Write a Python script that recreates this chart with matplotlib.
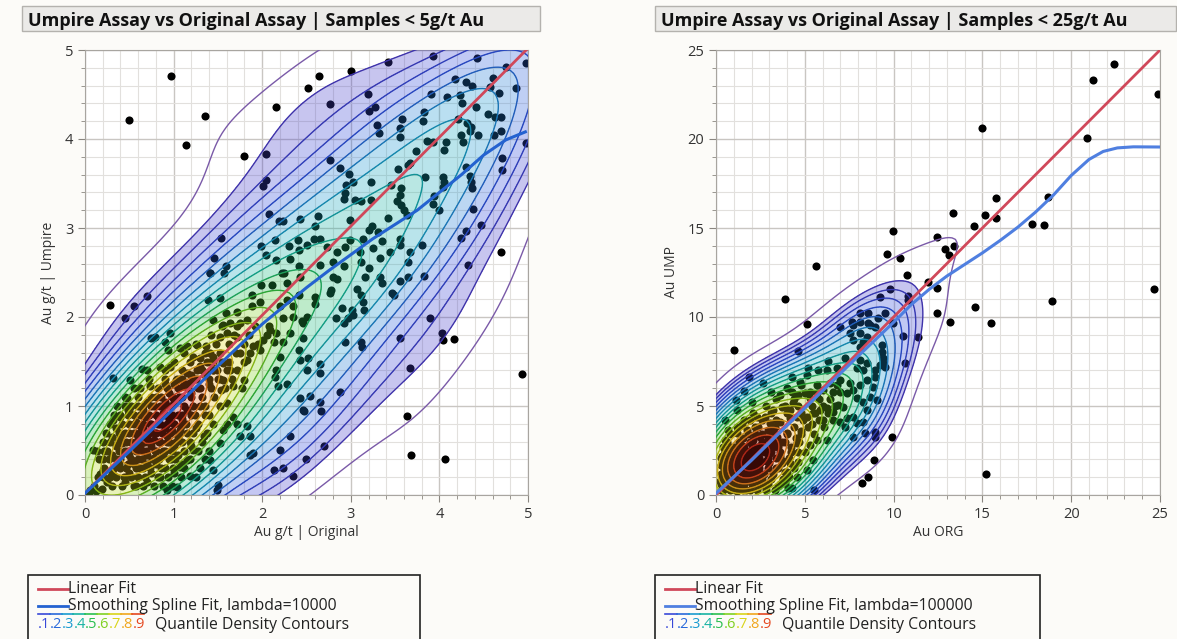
import numpy as np
import matplotlib.pyplot as plt
from matplotlib.patches import Rectangle
from matplotlib.lines import Line2D
from matplotlib.ticker import MultipleLocator
from matplotlib.colors import LinearSegmentedColormap

plt.rcParams['font.family'] = ['Open Sans', 'DejaVu Sans']

# ---- left panel: samples < 5 g/t (Original, Umpire) ----
sparse5 = [
    (0.97, 4.71), (0.50, 4.21), (1.35, 4.26), (1.14, 3.93), (2.16, 4.36), (2.52, 4.57),
    (1.79, 3.81), (2.04, 3.83), (2.04, 3.54), (2.01, 3.47), (2.08, 3.16), (2.19, 3.08),
    (2.24, 3.08), (2.43, 3.10), (1.53, 2.89), (1.46, 2.66), (1.59, 2.57), (1.41, 2.50),
    (1.99, 2.80), (2.14, 2.87), (2.30, 2.80), (2.40, 2.87), (2.41, 2.75), (2.04, 2.70),
    (2.16, 2.64), (2.31, 2.65), (2.41, 2.57), (2.25, 2.50),
    (3.42, 4.86), (3.93, 4.93), (4.43, 4.91), (4.75, 4.81), (4.98, 4.85), (3.00, 4.76),
    (2.64, 4.71), (2.77, 4.39), (3.19, 4.51), (3.27, 4.36), (3.20, 4.32), (4.87, 4.57),
    (4.98, 3.95),
    (4.18, 4.67), (4.30, 4.64), (4.37, 4.60), (4.60, 4.69), (4.67, 4.52), (4.57, 4.58),
    (3.91, 4.51), (4.09, 4.47), (4.23, 4.49), (4.26, 4.40), (4.41, 4.36), (4.55, 4.28),
    (4.63, 4.25), (4.69, 4.25), (4.62, 4.05), (4.70, 4.09), (4.44, 4.05), (4.34, 4.09),
    (4.24, 4.05), (4.27, 3.97), (4.36, 4.14), (4.31, 4.18), (4.21, 4.22), (4.07, 3.97),
    (4.05, 3.88), (3.86, 3.98), (3.93, 3.97), (3.83, 4.30), (3.82, 4.20), (3.58, 4.22),
    (3.55, 4.12), (3.55, 4.02), (3.30, 4.16), (3.32, 4.07), (3.74, 3.86), (3.67, 3.73),
    (3.64, 3.71), (3.53, 3.66), (3.45, 3.48), (3.23, 3.52), (3.84, 3.57), (4.04, 3.57),
    (4.05, 3.52), (4.04, 3.46), (4.30, 3.68), (4.35, 3.58), (4.36, 3.52), (4.37, 3.45),
    (4.71, 3.79), (4.71, 3.65), (3.94, 3.36), (3.93, 3.27), (3.99, 3.20), (4.38, 3.21),
    (4.47, 3.03), (4.30, 2.97), (4.24, 2.89), (4.70, 2.73), (4.32, 2.58), (2.76, 3.76),
    (2.88, 3.67), (2.98, 3.61), (3.03, 3.52), (2.95, 3.48), (2.94, 3.39), (2.92, 3.33),
    (3.12, 3.30), (3.23, 3.31), (3.57, 3.45), (3.56, 3.37), (3.52, 3.30), (3.57, 3.26),
    (3.60, 3.20), (3.63, 3.15), (3.42, 3.11), (3.05, 3.31), (2.63, 3.13), (2.60, 3.02),
    (2.99, 3.09), (3.24, 3.02), (3.31, 2.96), (3.35, 2.85), (3.20, 2.98), (3.14, 2.88),
    (3.25, 2.77), (3.10, 2.73), (3.12, 2.62), (3.20, 2.55), (2.99, 2.87), (2.94, 2.79),
    (2.84, 2.73), (2.73, 2.79), (2.65, 2.88), (2.58, 2.88), (2.50, 2.81), (2.80, 2.62),
    (2.65, 2.58), (2.92, 2.57), (3.33, 2.66), (3.44, 2.73), (3.56, 2.81), (3.67, 2.73),
    (3.80, 2.81), (3.56, 2.88), (3.65, 2.62),
    (3.89, 1.99), (4.03, 1.82), (4.04, 1.74), (4.16, 1.75), (4.93, 1.36), (3.67, 1.43),
    (3.56, 1.76), (3.63, 0.89), (3.68, 0.45), (4.06, 0.41), (2.70, 0.55), (2.49, 0.41),
    (2.88, 1.16), (2.65, 1.05), (2.66, 0.94), (2.47, 0.94), (2.54, 1.11), (2.65, 1.47),
    (2.65, 1.37), (2.50, 1.40), (2.52, 1.54), (2.93, 1.72), (3.11, 1.72), (3.13, 1.66),
    (3.83, 2.46), (3.64, 2.45), (3.56, 2.40), (3.46, 2.27), (3.49, 2.25), (3.14, 2.17),
    (3.15, 2.08), (3.12, 2.25), (3.01, 2.08), (3.03, 2.02), (2.97, 1.99), (2.92, 1.93),
    (2.83, 1.99), (2.90, 2.10), (3.07, 2.32), (3.33, 2.45), (3.35, 2.38), (2.78, 2.30),
    (2.77, 2.27), (2.80, 2.45), (2.84, 2.43), (2.60, 2.23), (2.60, 2.15), (2.50, 2.00),
    (2.46, 1.93), (2.46, 1.76), (3.16, 2.45),
    (0.28, 2.13), (0.55, 2.12), (0.70, 2.24), (0.45, 1.99), (1.41, 2.50), (1.57, 2.50),
    (1.39, 2.19), (1.52, 2.21), (1.59, 2.04), (1.45, 1.97), (1.56, 1.91), (1.64, 1.93),
    (1.75, 1.93), (1.83, 1.97), (1.71, 2.06), (1.88, 2.12), (1.98, 2.17), (1.89, 2.25),
    (1.99, 2.36), (2.11, 2.36), (2.28, 2.38), (2.22, 2.49), (2.43, 2.45), (2.41, 2.25),
    (2.28, 2.19), (2.35, 2.12), (2.20, 2.12), (2.24, 1.99), (2.35, 2.00), (2.45, 1.95),
    (2.09, 1.85), (2.16, 1.82), (2.01, 1.74), (2.13, 1.72), (2.24, 1.72), (2.31, 1.82),
    (2.41, 1.63), (2.43, 1.52), (2.20, 1.55), (2.16, 1.40), (2.28, 1.25), (2.18, 1.22),
    (2.14, 1.33), (1.98, 1.63), (1.90, 1.67), (1.83, 1.52), (1.75, 1.59), (1.71, 1.78),
    (1.60, 1.82), (1.52, 1.78),
    (0.75, 1.76), (0.79, 1.78), (0.90, 1.72), (0.96, 1.82), (0.94, 1.63), (1.07, 1.65),
    (1.15, 1.67), (1.26, 1.69), (1.22, 1.55), (1.30, 1.54), (1.37, 1.67), (1.41, 1.59),
    (1.45, 1.50), (1.26, 1.40), (1.15, 1.37), (1.03, 1.29), (1.11, 1.22), (1.19, 1.26),
    (1.37, 1.37), (1.49, 1.40), (1.56, 1.48), (1.64, 1.40), (1.56, 1.29), (1.67, 1.22),
    (1.77, 1.20), (1.79, 1.29), (1.54, 1.18), (1.60, 1.03), (1.67, 0.88), (1.60, 0.80),
    (1.71, 0.80), (1.83, 0.77), (1.56, 0.73), (1.52, 0.58), (1.75, 0.66), (1.86, 0.66),
    (1.90, 0.47), (1.41, 0.39), (1.45, 0.28), (1.19, 0.21), (1.15, 0.39), (1.22, 0.51),
    (1.07, 0.73), (1.34, 0.66), (1.04, 0.09), (0.92, 0.06), (1.07, 0.32), (1.00, 0.58),
    (1.50, 0.11), (0.32, 1.31), (0.51, 1.29), (0.64, 1.42), (0.47, 1.09), (0.62, 1.20),
    (0.73, 1.22), (0.70, 1.40), (0.85, 1.44), (0.96, 1.44), (0.49, 0.96), (0.40, 0.88),
    (0.32, 0.84), (0.09, 0.51), (0.17, 0.24), (0.06, 0.06), (0.19, 0.07),
    (2.43, 1.09), (2.46, 0.96), (2.31, 0.66), (2.20, 0.51), (1.86, 0.45), (2.13, 0.28),
    (2.24, 0.30), (2.35, 0.21), (1.49, 0.06),
]
core5 = [
    (0.25, 0.15), (0.30, 0.25), (0.35, 0.20), (0.40, 0.30), (0.45, 0.15), (0.50, 0.25),
    (0.55, 0.10), (0.60, 0.20), (0.65, 0.30), (0.70, 0.15), (0.75, 0.25), (0.80, 0.35),
    (0.85, 0.20), (0.90, 0.30), (0.95, 0.40), (1.00, 0.25), (1.05, 0.45), (1.10, 0.35),
    (0.20, 0.40), (0.25, 0.50), (0.30, 0.45), (0.35, 0.55), (0.40, 0.40), (0.45, 0.50),
    (0.50, 0.45), (0.55, 0.55), (0.60, 0.40), (0.65, 0.50), (0.70, 0.45), (0.75, 0.55),
    (0.80, 0.50), (0.85, 0.60), (0.90, 0.50), (0.95, 0.60), (1.00, 0.55), (1.05, 0.65),
    (1.10, 0.60), (1.15, 0.70), (1.20, 0.55), (1.25, 0.75), (0.30, 0.65), (0.35, 0.75),
    (0.40, 0.65), (0.45, 0.70), (0.50, 0.80), (0.55, 0.70), (0.60, 0.65), (0.65, 0.75),
    (0.70, 0.65), (0.75, 0.80), (0.80, 0.70), (0.85, 0.80), (0.90, 0.75), (0.95, 0.85),
    (1.00, 0.80), (1.05, 0.90), (1.10, 0.85), (1.15, 0.95), (1.20, 0.90), (1.30, 1.00),
    (1.35, 0.90), (0.40, 0.90), (0.45, 1.00), (0.50, 0.95), (0.55, 0.90), (0.60, 1.00),
    (0.65, 0.95), (0.70, 1.05), (0.75, 1.00), (0.80, 1.10), (0.85, 1.00), (0.90, 1.05),
    (0.95, 1.15), (1.00, 1.05), (1.05, 1.20), (1.10, 1.10), (1.15, 1.25), (1.20, 1.15),
    (1.25, 1.30), (1.30, 1.20), (1.35, 1.35), (1.40, 1.25), (1.45, 1.40), (1.50, 1.30),
    (0.62, 0.55), (0.68, 0.60), (0.72, 0.70), (0.78, 0.62), (0.82, 0.88), (0.58, 0.82),
    (0.88, 0.92), (0.92, 0.66), (0.52, 0.60), (0.48, 0.35), (0.70, 0.35), (0.78, 0.42),
    (0.88, 0.45), (0.98, 0.72), (1.08, 0.78), (0.68, 0.88), (0.62, 0.78), (0.42, 0.58),
    (0.38, 0.35), (0.55, 0.35), (0.10, 0.10), (0.15, 0.20), (0.20, 0.28), (0.12, 0.05),
    (0.05, 0.02), (1.20, 1.35), (1.30, 1.45), (1.38, 1.50), (1.45, 1.55), (1.55, 1.50),
    (1.10, 1.30), (1.00, 1.25), (0.90, 1.25),
]
# dense blob, read row by row: Umpire value -> Original values
blob5_rows = {
    0.10: [0.30, 0.42, 0.58, 0.66, 0.78, 0.88, 0.98],
    0.20: [0.20, 0.28, 0.44, 0.52, 0.68, 0.82, 0.94, 1.08, 1.25],
    0.30: [0.22, 0.33, 0.46, 0.57, 0.62, 0.73, 0.86, 0.99, 1.12, 1.30],
    0.40: [0.16, 0.27, 0.35, 0.52, 0.64, 0.76, 0.84, 0.97, 1.02, 1.18, 1.35],
    0.50: [0.14, 0.22, 0.38, 0.48, 0.58, 0.69, 0.79, 0.88, 0.98, 1.12, 1.28, 1.40],
    0.60: [0.20, 0.28, 0.37, 0.46, 0.57, 0.66, 0.74, 0.83, 0.93, 1.03, 1.18, 1.32],
    0.70: [0.24, 0.38, 0.50, 0.61, 0.70, 0.78, 0.87, 0.96, 1.06, 1.22, 1.38],
    0.80: [0.28, 0.42, 0.55, 0.66, 0.73, 0.82, 0.92, 1.00, 1.14, 1.28, 1.45],
    0.90: [0.33, 0.48, 0.62, 0.72, 0.80, 0.90, 0.98, 1.10, 1.24, 1.40],
    1.00: [0.36, 0.52, 0.66, 0.78, 0.88, 0.96, 1.12, 1.22, 1.36, 1.52],
    1.10: [0.45, 0.60, 0.74, 0.86, 0.98, 1.06, 1.20, 1.32, 1.46],
    1.20: [0.55, 0.82, 0.92, 1.16, 1.28, 1.42, 1.58],
    1.30: [0.72, 0.90, 1.04, 1.22, 1.40, 1.52, 1.66],
    1.40: [0.90, 1.10, 1.32, 1.45, 1.60, 1.72],
    1.50: [1.00, 1.18, 1.42, 1.62, 1.80],
    1.60: [1.12, 1.35, 1.52, 1.70, 1.86],
    1.70: [1.25, 1.48, 1.62, 1.80, 1.95],
    1.80: [1.42, 1.68, 1.85, 2.05],
    1.90: [1.55, 1.72, 1.92, 2.08],
}
lin5 = (0.02, 1.0)          # intercept, slope
spl5_x = [0.0, 0.5, 1.0, 1.5, 2.0, 2.5, 2.75, 3.0, 3.25, 3.5, 3.75, 4.0, 4.25, 4.5, 4.75, 4.97]
spl5_y = [0.02, 0.49, 0.97, 1.45, 1.92, 2.33, 2.52, 2.70, 2.88, 3.04, 3.20, 3.40, 3.60, 3.82, 3.99, 4.08]

# ---- right panel: samples < 25 g/t (ORG, UMP) ----
sparse25 = [
    (22.41, 24.19), (21.21, 23.30), (24.90, 22.51), (20.87, 20.07), (14.96, 20.60),
    (15.77, 16.70), (18.67, 16.76), (15.15, 15.73), (15.77, 15.54), (14.55, 15.13),
    (17.77, 15.22), (18.49, 15.17), (13.33, 15.82), (12.43, 14.47), (12.89, 13.80),
    (13.42, 13.99), (13.14, 13.48), (9.99, 14.85), (9.65, 13.54), (10.36, 13.30),
    (5.61, 12.88), (14.58, 10.54), (18.90, 10.92), (24.68, 11.55), (13.17, 9.74),
    (15.46, 9.64), (15.20, 1.18), (12.42, 11.61),
    (3.88, 10.99), (1.01, 8.15), (5.14, 9.59), (4.60, 8.09), (10.74, 12.36), (11.96, 11.98),
    (12.42, 10.21), (9.80, 11.57), (9.23, 11.14), (10.83, 11.18), (10.83, 10.95),
    (10.51, 8.95), (11.39, 8.90), (10.64, 7.40), (9.89, 3.28), (8.90, 1.97), (8.58, 1.03),
    (8.20, 0.69), (5.54, 0.28), (1.88, 6.61), (2.63, 6.31), (1.60, 5.86),
    (1.13, 5.34), (0.51, 4.21), (1.16, 4.78), (2.01, 5.24), (3.08, 5.81), (3.60, 5.62),
    (3.98, 5.99), (4.26, 6.61), (4.73, 6.37), (5.11, 6.74), (5.20, 7.12), (5.76, 7.02),
    (6.23, 7.02), (6.33, 7.55), (6.79, 7.12), (6.98, 6.46), (6.42, 6.27), (6.04, 5.90),
    (5.67, 5.71), (5.29, 5.43), (5.01, 5.71), (4.64, 5.62), (4.35, 5.15), (4.17, 4.77),
    (3.70, 4.96), (3.23, 4.77), (2.76, 4.40), (2.29, 4.40), (1.91, 4.21), (1.45, 3.93),
    (1.73, 3.65), (2.38, 3.84), (3.04, 4.03), (3.60, 4.12), (4.17, 4.31), (4.54, 4.40),
    (5.11, 4.40), (5.48, 4.59), (5.86, 4.77), (6.23, 4.87), (6.61, 4.68), (6.89, 5.06),
    (7.17, 4.96), (7.36, 4.31), (7.73, 4.40), (7.92, 4.03), (8.30, 4.12), (8.48, 4.77),
    (8.30, 5.24), (7.92, 5.43), (7.73, 5.90), (7.36, 5.71), (7.55, 6.27), (8.11, 6.18),
    (8.48, 6.46), (8.95, 6.65), (8.86, 6.09), (8.67, 5.52), (9.05, 5.34), (9.52, 7.21),
    (9.23, 7.30), (8.95, 7.02), (9.42, 7.68), (8.11, 7.58), (8.30, 7.02), (8.48, 7.40),
    (7.92, 7.12), (7.26, 7.68), (7.73, 8.71), (8.11, 8.33), (8.30, 8.61), (8.48, 8.89),
    (8.67, 9.55), (8.11, 9.08), (7.55, 9.08), (7.73, 9.55), (6.98, 9.46), (7.64, 9.74),
    (8.11, 9.74), (8.58, 9.64), (8.95, 9.46), (9.14, 9.92), (8.11, 10.21), (8.58, 10.24),
    (9.52, 10.21), (9.98, 9.64), (9.33, 8.43), (9.33, 8.05), (9.42, 7.40), (8.95, 3.56),
    (8.95, 3.28), (7.70, 3.28), (8.39, 3.46), (6.98, 4.12), (7.26, 3.84), (6.23, 3.09),
    (5.48, 1.97), (5.11, 1.40), (4.54, 1.03), (4.07, 0.37), (3.70, 0.75), (3.88, 1.31),
    (4.17, 1.78), (4.64, 1.87), (5.01, 2.43), (5.29, 2.81), (5.67, 3.09), (4.54, 2.90),
    (3.98, 3.46), (3.42, 3.28), (2.95, 3.65), (2.48, 3.28), (2.10, 3.09), (1.54, 3.18),
    (1.16, 3.46), (0.69, 3.65), (0.51, 3.09),
]
core25 = [
    (0.30, 0.30), (0.50, 0.60), (0.80, 0.40), (1.00, 0.90), (1.20, 0.50), (1.50, 0.80),
    (1.70, 0.30), (2.00, 0.60), (2.30, 0.90), (0.40, 1.10), (0.70, 1.30), (1.00, 1.60),
    (1.30, 1.20), (1.60, 1.40), (1.90, 1.10), (2.20, 1.50), (2.50, 1.20), (0.30, 1.70),
    (0.60, 2.00), (0.90, 2.20), (1.20, 1.90), (1.50, 2.10), (1.80, 1.80), (2.10, 2.20),
    (2.40, 2.00), (2.70, 2.40), (0.50, 2.50), (0.80, 2.70), (1.10, 2.50), (1.40, 2.80),
    (1.70, 2.50), (2.00, 2.80), (2.30, 2.60), (2.60, 2.90), (1.20, 0.20), (0.20, 0.80),
    (1.40, 0.50), (0.90, 1.00), (1.10, 1.30), (1.30, 0.90), (1.60, 1.70), (1.80, 1.50),
    (0.60, 0.90), (0.90, 0.60), (2.80, 1.90), (3.00, 2.30), (3.20, 2.70), (3.30, 3.00),
    (2.90, 3.20), (3.60, 2.20), (3.40, 1.50), (3.80, 1.90), (4.00, 1.30), (4.20, 2.40),
    (3.90, 0.70), (4.30, 0.40), (3.50, 0.50), (4.10, 1.00), (1.15, 1.05), (1.35, 1.55),
    (0.75, 1.55), (1.55, 1.15), (1.05, 1.85), (1.85, 0.85), (0.45, 1.45), (2.15, 1.85),
    (0.95, 0.35), (1.65, 2.25), (2.45, 2.45), (0.35, 2.20), (2.55, 0.55), (3.10, 3.60),
    (3.70, 3.00), (2.20, 3.40), (4.50, 3.20), (4.80, 3.60), (5.40, 4.00), (6.00, 4.20),
]
blob25_rows = {
    0.3: [0.4, 0.8, 1.1, 1.5, 1.9, 2.3, 2.8, 3.3],
    0.6: [0.3, 0.7, 1.0, 1.3, 1.6, 2.0, 2.4, 2.9, 3.6],
    0.9: [0.5, 0.8, 1.2, 1.4, 1.7, 2.1, 2.6, 3.1, 3.8],
    1.2: [0.3, 0.6, 0.9, 1.5, 1.8, 2.2, 2.7, 3.2],
    1.5: [0.5, 0.8, 1.2, 1.5, 1.9, 2.4, 2.9, 3.5, 4.4],
    1.8: [0.4, 0.7, 1.0, 1.4, 2.0, 2.5, 3.0, 3.7],
    2.1: [0.3, 0.8, 1.2, 1.8, 2.4, 2.9, 3.4, 4.1],
    2.4: [0.5, 0.9, 1.3, 1.9, 2.2, 3.1, 3.6, 4.6],
    2.7: [0.4, 1.0, 1.6, 2.3, 2.9, 3.5, 4.2],
    3.0: [0.6, 1.3, 1.9, 2.6, 3.2, 3.9, 4.7],
    3.4: [0.8, 1.8, 2.6, 3.3, 4.0, 4.8, 5.5],
    3.8: [1.2, 2.2, 3.3, 4.4, 5.2, 6.1],
    4.2: [1.6, 2.6, 3.4, 4.9, 5.8, 6.6],
    4.6: [2.1, 3.1, 4.0, 4.8, 5.6, 6.3],
    5.0: [2.8, 3.9, 4.6, 5.4, 6.0, 6.7],
    5.4: [3.4, 4.4, 5.8, 6.4],
    5.8: [4.3, 5.3, 6.6, 7.0],
    6.2: [4.8, 5.7, 6.8],
}
lin25 = (0.0, 1.0)
spl25_x = [0.0, 2, 4, 6, 8, 10, 11, 12, 13, 14, 15, 16, 17, 18, 19, 20, 21, 21.8, 22.6, 23.5, 25]
spl25_y = [0.1, 1.95, 3.9, 5.85, 7.8, 9.7, 10.7, 11.55, 12.3, 12.95, 13.6, 14.3, 15.05, 15.9,
           16.85, 17.95, 18.85, 19.3, 19.5, 19.56, 19.55]

n_bands = 19

W, H = 1177, 639
fig = plt.figure(figsize=(W / 100, H / 100), dpi=100)
fig.patch.set_facecolor('#fcfbf8')
cmap = LinearSegmentedColormap.from_list('jmp', [
    (0.0, '#4a3cc8'), (0.15, '#3050e0'), (0.3, '#1a9cd0'), (0.42, '#16b89a'),
    (0.52, '#2ec040'), (0.62, '#94d41c'), (0.72, '#e8d418'), (0.82, '#f29a1e'),
    (0.91, '#e44020'), (1.0, '#a81414')])


def fx(px):
    return px / W


def fy(py):
    return 1 - py / H


def kde(px, py, gx, gy, bw, corr_scale):
    cov = np.cov(np.vstack([px, py])) * bw ** 2
    cov[0, 1] *= corr_scale
    cov[1, 0] *= corr_scale
    inv = np.linalg.inv(cov)
    dx = gx.ravel()[:, None] - px[None, :]
    dy = gy.ravel()[:, None] - py[None, :]
    m = inv[0, 0] * dx * dx + 2 * inv[0, 1] * dx * dy + inv[1, 1] * dy * dy
    return np.exp(-0.5 * m).sum(1).reshape(gx.shape)


def panel(rect, pts, lim, major, minor, kern, levels, lin, sx, sy, blue, xlabel, ylabel):
    bw, corr_scale = kern
    r_edge, r_out, p = levels
    ax = fig.add_axes(rect)
    ax.set_facecolor('white')
    x = np.array([pt[0] for pt in pts])
    y = np.array([pt[1] for pt in pts])
    ax.scatter(x, y, s=34, color='black', zorder=2, linewidths=0)

    g = np.linspace(-0.2 * lim, 1.2 * lim, 200)
    gx, gy = np.meshgrid(g, g)
    dens = kde(x, y, gx, gy, bw, corr_scale)
    dmax = dens.max()
    t = np.arange(n_bands) / n_bands
    lv = dmax * np.exp(np.log(r_edge) * (1 - t) ** p)
    fill_lv = list(lv) + [dmax * 1.01]
    tc = t + 0.5 / n_bands
    ax.contourf(gx, gy, dens, levels=fill_lv, colors=[cmap(v) for v in tc], alpha=0.3, zorder=3)
    ax.contour(gx, gy, dens, levels=[dmax * r_out], colors=['#7a5aa8'], linewidths=1.0, zorder=4)
    ax.contour(gx, gy, dens, levels=lv, colors=[tuple(0.85 * c for c in cmap(v)[:3]) for v in t],
               linewidths=1.0, zorder=4)

    xx = np.array([0, lim])
    ax.plot(xx, lin[0] + lin[1] * xx, color='#d0485a', lw=2, zorder=5)
    ax.plot(sx, sy, color=blue, lw=2.2, zorder=6)

    ax.set_xlim(0, lim)
    ax.set_ylim(0, lim)
    ax.xaxis.set_major_locator(MultipleLocator(major))
    ax.yaxis.set_major_locator(MultipleLocator(major))
    ax.xaxis.set_minor_locator(MultipleLocator(minor))
    ax.yaxis.set_minor_locator(MultipleLocator(minor))
    ax.grid(which='major', color='#c9c6c2', lw=1.0, zorder=0)
    ax.grid(which='minor', color='#e2e0dd', lw=0.8, zorder=0)
    ax.set_axisbelow(True)
    for s in ax.spines.values():
        s.set_color('#a8a5a0')
    ax.tick_params(which='both', direction='out', colors='#8a8680', labelcolor='#333333', labelsize=10.5)
    ax.tick_params(which='major', length=5)
    ax.tick_params(which='minor', length=3)
    ax.set_xlabel(xlabel, fontsize=10, color='#333333', labelpad=2)
    ax.set_ylabel(ylabel, fontsize=10, color='#333333', labelpad=6)
    return ax


def title_box(x0, x1, text):
    fig.add_artist(Rectangle((fx(x0), fy(31)), fx(x1) - fx(x0), fy(6) - fy(31),
                             transform=fig.transFigure, facecolor='#ebeae8', edgecolor='#b4b2ae', lw=1))
    fig.text(fx(x0 + 6), fy(19), text, fontsize=13, fontweight='bold', va='center_baseline',
             ha='left', color='#111111')


def legend_box(x0, x1, lam, blue):
    fig.add_artist(Rectangle((fx(x0), fy(650)), fx(x1) - fx(x0), fy(575) - fy(650),
                             transform=fig.transFigure, facecolor='none', edgecolor='#222222', lw=1.2))
    lx0, lx1 = x0 + 10, x0 + 40
    fig.add_artist(Line2D([fx(lx0), fx(lx1)], [fy(589), fy(589)], transform=fig.transFigure,
                          color='#d0485a', lw=2))
    fig.text(fx(lx1), fy(587), 'Linear Fit', fontsize=11.3, va='center_baseline', color='#222222')
    fig.add_artist(Line2D([fx(lx0), fx(lx1)], [fy(606), fy(606)], transform=fig.transFigure,
                          color=blue, lw=2))
    fig.text(fx(lx1), fy(604), 'Smoothing Spline Fit, lambda=' + lam, fontsize=11.3,
             va='center_baseline', color='#222222')
    for i in range(9):
        q = (i + 1) / 10
        xa = lx0 + i * 11.8
        fig.add_artist(Line2D([fx(xa), fx(xa + 11.8)], [fy(614), fy(614)], transform=fig.transFigure,
                              color=cmap(q), lw=1.2))
        fig.text(fx(xa), fy(623), '.%d' % (i + 1), fontsize=10.5, va='center_baseline', color=cmap(q))
    fig.text(fx(lx0 + 117), fy(623), 'Quantile Density Contours', fontsize=11.3,
             va='center_baseline', color='#222222')


def flatten(rows):
    return [(xv, yv) for yv, xs in rows.items() for xv in xs]


panel([fx(85), fy(495), fx(528) - fx(85), fy(50) - fy(495)], sparse5 + core5 + flatten(blob5_rows),
      5, 1, 0.2, (0.5, 1.0), (0.035, 0.016, 1.8), lin5, spl5_x, spl5_y, '#2462d0',
      'Au g/t | Original', 'Au g/t | Umpire')
panel([fx(716), fy(495), fx(1160) - fx(716), fy(50) - fy(495)], sparse25 + core25 + flatten(blob25_rows),
      25, 5, 1, (0.42, 0.4), (0.1, 0.06, 1.3), lin25, spl25_x, spl25_y, '#4f7fe0', 'Au ORG', 'Au UMP')

title_box(22, 540, 'Umpire Assay vs Original Assay | Samples < 5g/t Au')
title_box(655, 1176, 'Umpire Assay vs Original Assay | Samples < 25g/t Au')
legend_box(28, 420, '10000', '#2462d0')
legend_box(655, 1040, '100000', '#4f7fe0')

fig.savefig('out.png', dpi=100, facecolor=fig.get_facecolor())
